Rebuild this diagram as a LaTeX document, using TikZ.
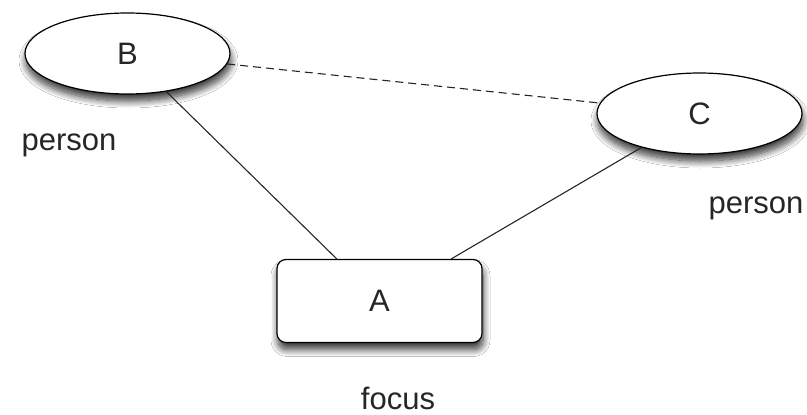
\documentclass[tikz,border=0pt]{standalone}
\usepackage{fontspec}
\setmainfont{Liberation Sans}
\usetikzlibrary{shapes.geometric,shadows.blur}
\begin{document}
\begin{tikzpicture}[x=1pt,y=-1pt,
  every node/.style={font=\fontsize{31}{36}\selectfont, text=black!85},
  shadowed/.style={blur shadow={shadow xshift=1pt, shadow yshift=-7pt, shadow blur radius=7pt, shadow blur steps=12, shadow opacity=80}},
  ell/.style={ellipse, draw, line width=1.2pt, fill=white, minimum width=205pt, minimum height=81pt, inner sep=0pt, text depth=0pt, shadowed},
  box/.style={rectangle, rounded corners=9pt, draw, line width=1.2pt, fill=white, minimum width=205pt, minimum height=83pt, inner sep=0pt, text depth=0pt, shadowed},
  lbl/.style={inner sep=0pt, text depth=0pt},
  edge/.style={line width=1.1pt, draw=black!85},
  dashededge/.style={line width=1.1pt, draw=black!85, dash pattern=on 8pt off 5pt}]
\useasboundingbox (0,0) rectangle (807,415);
\fill[white] (0,0) rectangle (807,415);
\node[ell] (B) at (127.5,53.5) {B};
\node[ell] (C) at (699.5,113.5) {C};
\node[box] (A) at (379.5,301) {A};
\draw[edge] (B) -- (A);
\draw[edge] (C) -- (A);
\draw[dashededge] (B) -- (C);
\node[lbl] (pb) at (69,142) {person};
\node[lbl] (pc) at (756,205) {person};
\node[lbl] (fa) at (398,398) {focus};
\end{tikzpicture}
\end{document}
